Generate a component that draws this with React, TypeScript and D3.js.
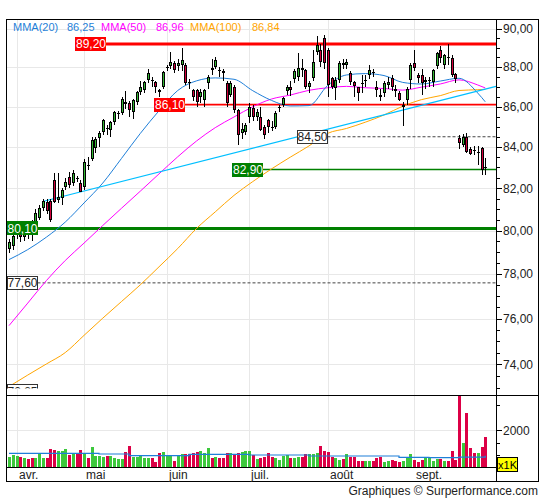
import * as d3 from 'd3';

// [open, high, low, close] by month
const candlesAvr = [
  [79.13, 79.6, 78.95, 79.45], [79.27, 80.1, 79.1, 79.77], [79.8, 80.4, 79.6, 80.15], [79.82, 80.05, 79.45, 79.7],
  [79.7, 80.2, 79.5, 79.95], [79.95, 80.3, 79.6, 79.85], [80.0, 80.5, 79.5, 79.8], [80.19, 81.0, 80.1, 80.85],
  [80.61, 81.2, 80.5, 81.08], [81.08, 81.5, 80.9, 81.4], [81.37, 81.5, 80.8, 80.9], [81.4, 81.5, 80.4, 80.52],
  [82.41, 82.75, 81.3, 81.37], [81.46, 82.75, 81.3, 81.6], [81.55, 82.0, 81.2, 81.93], [82.08, 82.5, 81.9, 82.32],
  [82.55, 82.8, 82.0, 82.17], [82.27, 82.9, 82.1, 82.75], [82.5, 82.6, 82.3, 82.45], [82.27, 82.4, 81.8, 81.84],
];
const candlesMai = [
  [82.08, 83.4, 81.9, 83.28], [83.13, 83.5, 82.9, 83.05], [83.42, 84.5, 83.3, 84.35], [83.96, 84.5, 83.7, 84.4],
  [84.44, 84.8, 84.0, 84.7], [84.74, 85.4, 84.6, 85.33], [84.94, 85.1, 84.6, 84.9], [84.84, 85.3, 84.5, 85.23],
  [85.23, 85.8, 85.1, 85.73], [85.65, 85.8, 85.4, 85.68], [85.68, 86.5, 85.6, 86.38], [86.23, 86.8, 85.9, 86.15],
  [86.2, 86.3, 85.5, 85.83], [85.73, 86.4, 85.4, 86.33], [86.23, 86.8, 86.1, 86.73], [86.73, 87.3, 86.6, 86.98],
  [86.83, 87.3, 86.7, 87.23], [87.34, 87.9, 87.2, 87.69], [87.34, 87.5, 87.0, 87.3], [87.23, 87.3, 86.7, 86.98],
  [86.83, 86.9, 86.5, 86.73], [86.98, 87.8, 86.9, 87.74],
];
const candlesJuin = [
  [87.95, 88.1, 87.8, 88.0], [88.05, 88.78, 87.9, 88.26], [88.21, 88.3, 87.7, 87.84], [88.05, 88.4, 87.8, 88.21],
  [88.1, 89.0, 87.8, 88.36], [88.1, 88.2, 87.1, 87.18], [87.23, 87.4, 86.9, 87.2], [86.83, 86.9, 86.3, 86.48],
  [86.83, 86.9, 86.0, 86.23], [86.48, 86.9, 86.2, 86.73], [86.33, 86.9, 86.0, 86.83], [87.18, 87.6, 86.9, 87.49],
  [87.95, 88.4, 87.6, 87.84], [88.0, 88.5, 87.9, 88.36], [87.84, 88.0, 87.5, 87.8], [87.8, 87.9, 87.3, 87.7],
  [87.18, 87.3, 86.0, 86.18], [86.58, 87.3, 86.5, 87.18], [86.98, 87.1, 85.7, 85.83], [85.83, 85.9, 84.1, 84.59],
  [84.7, 85.2, 84.4, 84.9], [84.74, 85.2, 84.6, 85.08],
];
const candlesJuil = [
  [85.48, 86.2, 85.2, 85.98], [85.93, 86.1, 85.3, 85.48], [85.48, 85.9, 85.3, 85.73], [85.48, 85.98, 84.8, 84.84],
  [85.0, 85.1, 84.4, 84.6], [85.33, 85.4, 84.7, 84.99], [85.0, 85.3, 84.8, 84.95], [84.99, 85.8, 84.9, 85.68],
  [85.98, 86.1, 85.75, 86.0], [86.08, 86.5, 86.0, 86.43], [86.78, 87.1, 86.6, 86.98], [86.98, 87.3, 86.55, 86.83],
  [87.39, 87.9, 87.2, 87.79], [87.49, 88.75, 87.3, 87.95], [87.95, 88.4, 87.5, 87.84], [87.84, 87.9, 86.9, 86.98],
  [86.98, 87.3, 86.7, 87.18], [87.44, 88.9, 87.3, 88.26], [88.78, 89.6, 88.6, 89.14], [88.88, 89.2, 88.0, 88.26],
  [89.51, 89.65, 87.9, 88.21],
];
const candlesAout = [
  [88.88, 89.0, 86.5, 87.08], [87.44, 87.5, 86.9, 86.98], [86.93, 87.5, 86.33, 87.34], [87.34, 88.3, 87.2, 88.21],
  [88.21, 88.4, 87.9, 88.1], [88.1, 88.4, 87.9, 88.26], [87.69, 87.8, 87.1, 87.23], [87.23, 87.3, 86.5, 87.03],
  [86.98, 87.0, 86.3, 86.68], [87.2, 87.6, 86.7, 87.15], [87.3, 87.6, 87.0, 87.35], [87.59, 88.1, 87.4, 87.84],
  [87.74, 87.9, 87.5, 87.7], [86.98, 87.3, 86.5, 86.83], [86.58, 86.9, 86.3, 86.48], [86.68, 87.3, 86.5, 87.18],
  [87.08, 87.5, 86.9, 87.23], [87.44, 87.6, 86.8, 86.98], [86.9, 87.1, 86.5, 86.8], [86.68, 86.8, 86.3, 86.33],
  [86.0, 86.25, 85.05, 86.08], [86.33, 87.0, 86.1, 86.88], [87.34, 88.2, 86.88, 88.1],
];
const candlesSept = [
  [88.21, 88.88, 87.8, 87.95], [87.59, 87.7, 87.2, 87.44], [87.59, 87.9, 86.6, 87.18], [87.23, 87.5, 86.9, 87.34],
  [87.3, 87.5, 87.0, 87.34], [87.23, 87.9, 87.0, 87.84], [88.05, 88.8, 87.9, 88.72], [88.88, 89.1, 88.2, 88.46],
  [88.1, 88.7, 87.9, 88.62], [88.5, 89.2, 88.1, 88.45], [88.46, 88.6, 87.5, 87.59], [87.64, 87.7, 87.2, 87.39],
  [84.44, 84.6, 83.9, 84.2], [84.1, 84.65, 84.0, 84.49], [84.49, 84.7, 83.7, 83.76], [83.91, 84.0, 83.6, 83.66],
  [83.85, 84.05, 83.6, 83.8], [83.7, 84.05, 83.1, 83.75], [83.96, 84.0, 82.65, 82.89], [83.02, 83.45, 82.65, 82.96],
];

// volumes (x1K) by month
const volAvr = [951, 1019, 979, 951, 911, 859, 887, 887, 1059, 887, 887, 1246, 1218, 1178, 1178, 1246, 1019, 1059, 1059, 1218];
const volMai = [1110, 887, 1320, 979, 979, 951, 979, 979, 887, 860, 860, 1127, 1378, 951, 951, 979, 911, 887, 887, 727, 1087, 1127];
const volJuin = [979, 979, 780, 1019, 1047, 1059, 1047, 1110, 1150, 1178, 1087, 1290, 887, 951, 911, 911, 1087, 1087, 1047, 1087, 1150, 1178];
const volJuil = [1178, 1019, 860, 911, 951, 1087, 951, 911, 819, 979, 1019, 911, 887, 951, 951, 1059, 1059, 1047, 1087, 1378, 1178];
const volAout = [1127, 951, 887, 819, 859, 1047, 951, 951, 779, 779, 779, 779, 779, 887, 951, 727, 779, 819, 779, 751, 779, 887, 1047];
const volSept = [819, 751, 819, 911, 911, 779, 859, 859, 791, 791, 1178, 819, 3385, 1510, 2683, 1286, 1111, 1111, 1326, 1725];

// moving averages sampled at candle indices
const maIdx = [0, 5, 10, 15, 20, 25, 30, 35, 40, 45, 50, 55, 60, 65, 70, 75, 80, 85, 90, 95, 100, 105, 110, 115, 120, 125, 127];
const mma20 = [78.66, 79.12, 79.7, 80.4, 81.3, 82.25, 83.44, 84.66, 85.79, 86.81, 87.3, 87.45, 87.38, 86.8, 86.31, 86.03, 86.05, 87.07, 87.6, 87.67, 87.57, 87.22, 87.14, 87.29, 87.43, 86.68, 86.24];
const mma50 = [75.69, 76.69, 77.71, 78.62, 79.42, 80.24, 81.05, 81.86, 82.69, 83.52, 84.29, 84.95, 85.48, 85.99, 86.38, 86.58, 86.82, 86.95, 87.02, 86.95, 86.91, 86.83, 86.98, 87.14, 87.35, 87.09, 86.94];
const mma100 = [73.05, 73.54, 74.02, 74.51, 75.26, 76.02, 76.76, 77.51, 78.33, 79.17, 80.1, 80.88, 81.66, 82.32, 82.93, 83.5, 84.05, 84.67, 84.91, 85.22, 85.58, 86.02, 86.35, 86.55, 86.81, 86.85, 86.87];

const volMaIdx = [0, 8, 16, 24, 32, 40, 48, 56, 64, 72, 80, 88, 96, 104, 112, 120, 127];
const volMa = [1087, 1087, 1087, 1060, 992, 992, 1047, 1047, 1019, 1019, 979, 979, 979, 925, 911, 938, 992];

const trendIdx = [9, 129.87];
const trendVal = [81.37, 87.02];

const monthLabels = ['avr.', 'mai', 'juin', 'juil.', 'août', 'sept.'];
const monthStart = [2, 20, 42, 64, 85, 108];

const legendNames = ['MMA(20)', 'MMA(50)', 'MMA(100)'];
const legendValues = ['86,25', '86,96', '86,84'];

const levelValues = [89.2, 86.1, 84.5, 82.9, 80.1, 77.6, 72.85];

const priceTicks = [74, 76, 78, 80, 82, 84, 86, 88, 90];
const volTicks = [1000, 1500, 2000, 3000];

// look of each level line
const levelStyle = [
  { box: 75, fill: '#ff0000', line: '#ff0000', w: 3, dash: '', text: '#fff' },
  { box: 154, fill: '#ff0000', line: '#ff0000', w: 1.6, dash: '', text: '#fff' },
  { box: 296.5, fill: '#fff', line: '#444', w: 1, dash: '3,2', text: '#222' },
  { box: 232, fill: '#008000', line: '#008000', w: 1.6, dash: '', text: '#fff' },
  { box: 6.5, fill: '#008000', line: '#008000', w: 3, dash: '', text: '#fff' },
  { box: 6.5, fill: '#fff', line: '#444', w: 1, dash: '3,2', text: '#222' },
  { box: 6.5, fill: '#fff', line: 'none', w: 1, dash: '', text: '#222' },
];
const legendStyle = [
  { color: '#1f7fd8', x: 13, vx: 67 },
  { color: '#ff00ff', x: 101, vx: 156 },
  { color: '#ffa500', x: 190, vx: 252 },
];

const candles = [...candlesAvr, ...candlesMai, ...candlesJuin, ...candlesJuil, ...candlesAout, ...candlesSept];
const volumes = [...volAvr, ...volMai, ...volJuin, ...volJuil, ...volAout, ...volSept];

const GREEN = '#33b833';
const RED = '#d2003c';
const VGREEN = '#3cc83c';
const VRED = '#dc0046';
const GRID = '#e8e8e8';
const FONT = "'Liberation Sans', Arial, sans-serif";

export default function App() {
  const left = 6.5, right = 496.5, top = 19.5, priceBottom = 395.5, volBase = 467.5, bottom = 481.5, frameRight = 538.5;

  const x = d3.scaleLinear().domain([0, candles.length - 1]).range([9, 485.25]);
  const y = d3.scaleLog().domain([72.66, 90.505]).range([395.7, 19]);
  const yv = d3.scaleLinear().domain([540, 3390]).range([467, 395.7]);
  const fmt = (v: number) => d3.format('.2f')(v).replace('.', ',');

  const maLine = d3
    .line<number>()
    .x((_, i) => x(maIdx[i]))
    .y((d) => y(d))
    .curve(d3.curveMonotoneX);
  const volLine = d3
    .line<number>()
    .x((_, i) => x(volMaIdx[i]))
    .y((d) => yv(d))
    .curve(d3.curveStepAfter);
  const trendLine = d3
    .line<number>()
    .x((_, i) => x(trendIdx[i]))
    .y((d) => y(d));

  const minorTicks = d3.range(73, 90.51, 0.5).filter((v) => v % 2 !== 0);
  const gridX = monthStart.map((i) => Math.round(x(i)) + 0.5);

  return (
    <svg
      width={545}
      height={500}
      style={{ position: 'absolute', left: 0, top: 0, background: '#fff' }}
      fontFamily={FONT}
    >
      <defs>
        <clipPath id="price-clip">
          <rect x={left} y={top} width={right - left} height={priceBottom - top} />
        </clipPath>
        <clipPath id="label-clip">
          <rect x={left} y={top} width={right - left} height={388.5 - top} />
        </clipPath>
      </defs>
      <rect x={0} y={0} width={545} height={500} fill="#fff" />

      {/* grid */}
      <g stroke={GRID} strokeWidth={1} shapeRendering="crispEdges">
        {priceTicks.map((t) => (
          <line key={t} x1={left} x2={right} y1={Math.round(y(t)) + 0.5} y2={Math.round(y(t)) + 0.5} />
        ))}
        <line x1={left} x2={right} y1={Math.round(yv(2000)) + 0.5} y2={Math.round(yv(2000)) + 0.5} />
        {gridX.map((gx, i) => (
          <line key={i} x1={gx} x2={gx} y1={top} y2={volBase} />
        ))}
      </g>

      {/* price panel */}
      <g clipPath="url(#price-clip)">
        {levelValues.map((v, i) => {
          const s = levelStyle[i];
          const ly = y(v);
          return s.line === 'none' ? null : (
            <line
              key={'l' + i}
              x1={s.box + 31}
              x2={right}
              y1={ly}
              y2={ly}
              stroke={s.line}
              strokeWidth={s.w}
              strokeDasharray={s.dash || undefined}
            />
          );
        })}

        <path d={maLine(mma100) || ''} fill="none" stroke="#ffa500" strokeWidth={1} />
        <path d={maLine(mma50) || ''} fill="none" stroke="#ff00ff" strokeWidth={1} />
        <path d={maLine(mma20) || ''} fill="none" stroke="#1f7fd8" strokeWidth={1} />
        <path d={trendLine(trendVal) || ''} fill="none" stroke="#00bfff" strokeWidth={1.2} />

        {/* candles */}
        <g shapeRendering="crispEdges">
          {candles.map(([o, h, l, c], i) => {
            const cx = Math.round(x(i));
            const up = c >= o;
            const yTop = Math.round(y(Math.max(o, c)));
            const yBot = Math.round(y(Math.min(o, c)));
            const bh = yBot - yTop;
            return (
              <g key={i}>
                <line x1={cx + 0.5} x2={cx + 0.5} y1={y(h)} y2={y(l)} stroke="#000" />
                {bh >= 2 ? (
                  <rect x={cx - 0.5} y={yTop + 0.5} width={2} height={bh - 1} fill={up ? GREEN : RED} stroke="#000" />
                ) : (
                  <line x1={cx - 1} x2={cx + 2} y1={yTop + 0.5} y2={yTop + 0.5} stroke="#000" />
                )}
              </g>
            );
          })}
        </g>
      </g>

      {/* level labels */}
      <g clipPath="url(#label-clip)">
        {levelValues.map((v, i) => {
          const s = levelStyle[i];
          const ly = y(v);
          return (
            <g key={'b' + i}>
              <rect
                x={s.box + 0.5}
                y={Math.round(ly - 7) + 0.5}
                width={30}
                height={13}
                fill={s.fill}
                stroke={s.fill === '#fff' ? '#333' : s.fill}
                shapeRendering="crispEdges"
              />
              <text x={s.box + 16} y={ly + 4.3} textAnchor="middle" fontSize={12} fill={s.text}>
                {fmt(v)}
              </text>
            </g>
          );
        })}
      </g>

      {/* legend */}
      {legendNames.map((n, i) => (
        <g key={n} fontSize={11} fill={legendStyle[i].color}>
          <text x={legendStyle[i].x} y={31}>{n}</text>
          <text x={legendStyle[i].vx} y={31}>{legendValues[i]}</text>
        </g>
      ))}

      {/* volume */}
      <g shapeRendering="crispEdges">
        {volumes.map((v, i) => {
          const cx = Math.round(x(i));
          const [o, , , c] = candles[i];
          return (
            <rect
              key={i}
              x={cx - 1}
              y={yv(v)}
              width={3}
              height={467 - yv(v)}
              fill={c >= o ? VGREEN : VRED}
            />
          );
        })}
      </g>
      <path d={volLine(volMa) || ''} fill="none" stroke="#1f7fd8" strokeWidth={1.2} />

      {/* frame and axes */}
      <g stroke="#000" strokeWidth={1} fill="none" shapeRendering="crispEdges">
        <rect x={left} y={top} width={frameRight - left} height={bottom - top} />
        <line x1={left} x2={frameRight} y1={priceBottom} y2={priceBottom} />
        <line x1={left} x2={right} y1={volBase} y2={volBase} />
        <line x1={right} x2={right} y1={top} y2={bottom} />
        {priceTicks.map((t) => (
          <line key={t} x1={right} x2={right + 5} y1={Math.round(y(t)) + 0.5} y2={Math.round(y(t)) + 0.5} />
        ))}
        {minorTicks.map((t) => (
          <line key={t} x1={right} x2={right + 3} y1={Math.round(y(t)) + 0.5} y2={Math.round(y(t)) + 0.5} />
        ))}
        {volTicks.map((t) => (
          <line key={t} x1={right} x2={right + (t === 2000 ? 5 : 3)} y1={Math.round(yv(t)) + 0.5} y2={Math.round(yv(t)) + 0.5} />
        ))}
      </g>

      <g fontSize={12} fill="#222">
        {priceTicks.map((t) => (
          <text key={t} x={503} y={y(t) + 4.3}>{fmt(t)}</text>
        ))}
        <text x={503} y={yv(2000) + 4.3}>2000</text>
        {monthLabels.map((m, i) => (
          <text key={m} x={gridX[i] + 1.5} y={478.5}>{m}</text>
        ))}
        <text x={538} y={495} textAnchor="end">Graphiques © Surperformance.com</text>
      </g>

      <rect x={497.5} y={457.5} width={20} height={14} fill="#ffff00" stroke="#000" shapeRendering="crispEdges" />
      <text x={507.5} y={468.5} textAnchor="middle" fontSize={11} fill="#000">x1K</text>
    </svg>
  );
}
